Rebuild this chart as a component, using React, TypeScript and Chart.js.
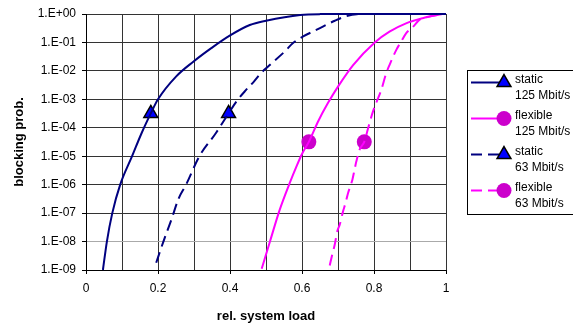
import React, { useEffect, useRef } from 'react';
import { Chart, registerables } from 'chart.js';

Chart.register(...registerables);

// ---- data ----
const staticLoad125 = [0.047, 0.058, 0.073, 0.095, 0.128, 0.154, 0.18, 0.2, 0.25, 0.298, 0.348, 0.398, 0.455, 0.5, 0.595, 0.65, 0.8, 1.0];
const staticBlock125 = [1e-9, 1e-8, 1e-7, 1e-6, 1e-5, 6.3e-5, 3.2e-4, 1e-3, 6.3e-3, 2.1e-2, 6.3e-2, 0.17, 0.41, 0.58, 0.93, 0.99, 1, 1];

const flexibleLoad125 = [0.488, 0.511, 0.538, 0.566, 0.585, 0.6, 0.619, 0.645, 0.672, 0.7, 0.742, 0.802, 0.843, 0.889, 0.935, 0.99];
const flexibleBlock125 = [1.1e-9, 1e-8, 1.3e-7, 1.15e-6, 4.5e-6, 1.2e-5, 3.2e-5, 1.7e-4, 7.4e-4, 2.8e-3, 1.6e-2, 0.1, 0.24, 0.47, 0.71, 1];

const staticLoad63 = [0.195, 0.215, 0.238, 0.257, 0.278, 0.315, 0.36, 0.396, 0.421, 0.444, 0.467, 0.486, 0.505, 0.552, 0.575, 0.602, 0.641, 0.658, 0.691, 0.718, 0.752, 0.8, 1.0];
const staticBlock63 = [1.8e-9, 1e-8, 6.3e-8, 3.2e-7, 1e-6, 1e-5, 6.3e-5, 3.2e-4, 9.5e-4, 2.1e-3, 4.3e-3, 8.3e-3, 1.4e-2, 4.8e-2, 9.5e-2, 0.16, 0.28, 0.36, 0.58, 0.8, 0.98, 1, 1];

const flexibleLoad63 = [0.677, 0.684, 0.691, 0.698, 0.705, 0.714, 0.721, 0.728, 0.74, 0.746, 0.751, 0.76, 0.773, 0.783, 0.797, 0.806, 0.82, 0.834, 0.843, 0.862, 0.876, 0.889, 0.908, 0.926, 0.954, 0.99];
const flexibleBlock63 = [1.45e-9, 3.5e-9, 7.9e-9, 2.3e-8, 4e-8, 1.15e-7, 2.3e-7, 5.1e-7, 1.5e-6, 3.4e-6, 6.6e-6, 1.7e-5, 3.2e-5, 9e-5, 3.7e-4, 7.4e-4, 2.1e-3, 8.3e-3, 1.6e-2, 5.5e-2, 0.11, 0.21, 0.35, 0.62, 0.81, 1];

// one marker per series: static125, flexible125, static63, flexible63
const markerLoad = [0.18, 0.619, 0.396, 0.773];
const markerBlock = [3.2e-4, 3.2e-5, 3.2e-4, 3.2e-5];

const seriesNames = ['static', 'flexible', 'static', 'flexible'];
const seriesRates = ['125 Mbit/s', '125 Mbit/s', '63 Mbit/s', '63 Mbit/s'];

const yTickValues = [1e-9, 1e-8, 1e-7, 1e-6, 1e-5, 1e-4, 1e-3, 1e-2, 1e-1, 1];
const xTickLabels = ['0', '0.2', '0.4', '0.6', '0.8', '1'];

const xTitle = 'rel. system load';
const yTitle = 'blocking prob.';

// ---- styles ----
const NAVY = '#000080';
const MAGENTA = '#FF00FF';
const TRI_FILL = '#0000FF';
const DOT_FILL = '#CC00CC';
const DASH = [11, 6];
const FONT = '"Liberation Sans", Arial, sans-serif';

const seriesStyles = [
  { color: NAVY, dash: [] as number[], marker: 'triangle' },
  { color: MAGENTA, dash: [] as number[], marker: 'circle' },
  { color: NAVY, dash: DASH, marker: 'triangle' },
  { color: MAGENTA, dash: DASH, marker: 'circle' },
];

function pts(xs: number[], ys: number[]) {
  return xs.map((x, i) => ({ x, y: ys[i] }));
}

function expLabel(v: number) {
  const e = Math.round(Math.log10(v));
  const a = Math.abs(e);
  return '1.E' + (e >= 0 ? '+' : '-') + (a < 10 ? '0' + a : String(a));
}

function drawMarker(ctx: CanvasRenderingContext2D, kind: string, x: number, y: number) {
  ctx.setLineDash([]);
  if (kind === 'triangle') {
    const r = 8;
    ctx.beginPath();
    for (let k = 0; k < 3; k++) {
      const a = (k * 2 * Math.PI) / 3;
      const px = x + Math.sin(a) * r;
      const py = y - Math.cos(a) * r;
      if (k === 0) ctx.moveTo(px, py);
      else ctx.lineTo(px, py);
    }
    ctx.closePath();
    ctx.fillStyle = TRI_FILL;
    ctx.fill();
    ctx.lineWidth = 1.5;
    ctx.strokeStyle = '#000';
    ctx.stroke();
  } else {
    ctx.beginPath();
    ctx.arc(x, y, 7.5, 0, Math.PI * 2);
    ctx.fillStyle = DOT_FILL;
    ctx.fill();
  }
}

const legendPlugin = {
  id: 'boxLegend',
  afterDraw(chart: any) {
    const ctx: CanvasRenderingContext2D = chart.ctx;
    ctx.save();
    ctx.strokeStyle = '#000';
    ctx.lineWidth = 1;
    ctx.setLineDash([]);
    ctx.strokeRect(467.5, 70.5, 130, 144);
    ctx.font = '12px ' + FONT;
    ctx.fillStyle = '#000';
    ctx.textBaseline = 'middle';
    ctx.textAlign = 'left';
    seriesNames.forEach((name, i) => {
      const st = seriesStyles[i];
      const ty = 80 + 36 * i;
      const ly = ty + 2.5;
      ctx.beginPath();
      ctx.setLineDash(st.dash);
      ctx.strokeStyle = st.color;
      ctx.lineWidth = 2;
      ctx.moveTo(471, ly);
      ctx.lineTo(504, ly);
      ctx.stroke();
      drawMarker(ctx, st.marker, 504, ly);
      ctx.fillStyle = '#000';
      ctx.fillText(name, 515, ty);
      ctx.fillText(seriesRates[i], 515, ty + 15.5);
    });
    ctx.restore();
  },
};

export default function App() {
  const ref = useRef<HTMLCanvasElement | null>(null);

  useEffect(() => {
    document.body.style.margin = '0';
    const canvas = ref.current;
    if (!canvas) return;

    const lineSeries = [
      pts(staticLoad125, staticBlock125),
      pts(flexibleLoad125, flexibleBlock125),
      pts(staticLoad63, staticBlock63),
      pts(flexibleLoad63, flexibleBlock63),
    ];

    const datasets: any[] = [];
    lineSeries.forEach((data, i) => {
      datasets.push({
        label: seriesNames[i] + ' ' + seriesRates[i],
        data,
        borderColor: seriesStyles[i].color,
        borderWidth: 2,
        borderDash: seriesStyles[i].dash,
        pointRadius: 0,
        fill: false,
        cubicInterpolationMode: 'monotone',
        clip: false,
        showLine: true,
      });
    });
    markerLoad.forEach((x, i) => {
      const tri = seriesStyles[i].marker === 'triangle';
      datasets.push({
        label: 'marker ' + i,
        data: [{ x, y: markerBlock[i] }],
        showLine: false,
        pointStyle: tri ? 'triangle' : 'circle',
        pointRadius: tri ? 8 : 7.5,
        pointBackgroundColor: tri ? TRI_FILL : DOT_FILL,
        pointBorderColor: tri ? '#000' : DOT_FILL,
        pointBorderWidth: tri ? 1.5 : 0,
        clip: false,
      });
    });

    const chart = new Chart(canvas, {
      type: 'scatter',
      data: { datasets },
      plugins: [legendPlugin],
      options: {
        animation: false,
        responsive: false,
        events: [],
        layout: { padding: { left: 0, top: 14, right: 127, bottom: 0 } },
        plugins: { legend: { display: false }, tooltip: { enabled: false } },
        scales: {
          x: {
            type: 'linear',
            min: 0,
            max: 1,
            ticks: {
              stepSize: 0.1,
              autoSkip: false,
              maxRotation: 0,
              padding: 7,
              color: '#000',
              font: { size: 12, family: FONT },
              callback: (_v: any, idx: number) => (idx % 2 === 0 ? xTickLabels[idx / 2] : ''),
            },
            grid: {
              color: '#333',
              lineWidth: 1,
              tickLength: 4,
              tickColor: (c: any) => (c.index % 2 === 0 ? '#000' : 'rgba(0,0,0,0)'),
            },
            border: { display: true, color: '#000', width: 1 },
            title: {
              display: true,
              text: xTitle,
              color: '#000',
              font: { size: 13, weight: 'bold', family: FONT },
              padding: { top: 0, bottom: 2 },
            },
            afterFit: (s: any) => {
              s.height = 56;
            },
          },
          y: {
            type: 'logarithmic',
            min: 1e-9,
            max: 1,
            afterBuildTicks: (s: any) => {
              s.ticks = yTickValues.map((v) => ({ value: v }));
            },
            ticks: {
              autoSkip: false,
              padding: 6,
              color: '#000',
              font: { size: 12, family: FONT },
              callback: (v: any) => expLabel(Number(v)),
            },
            grid: {
              color: (c: any) =>
                c.tick && Math.abs(Math.log10(c.tick.value) + 8) < 0.01 ? '#aaaaaa' : '#333',
              lineWidth: 1,
              tickLength: 4,
              tickColor: '#000',
            },
            border: { display: true, color: '#000', width: 1 },
            title: {
              display: true,
              text: yTitle,
              color: '#000',
              font: { size: 13, weight: 'bold', family: FONT },
              padding: { top: 12, bottom: 0 },
            },
            afterFit: (s: any) => {
              s.width = 86;
            },
          },
        },
      } as any,
    });

    return () => {
      chart.destroy();
    };
  }, []);

  return (
    <div style={{ width: 573, height: 326 }}>
      <canvas ref={ref} width={573} height={326} style={{ display: 'block' }} />
    </div>
  );
}
